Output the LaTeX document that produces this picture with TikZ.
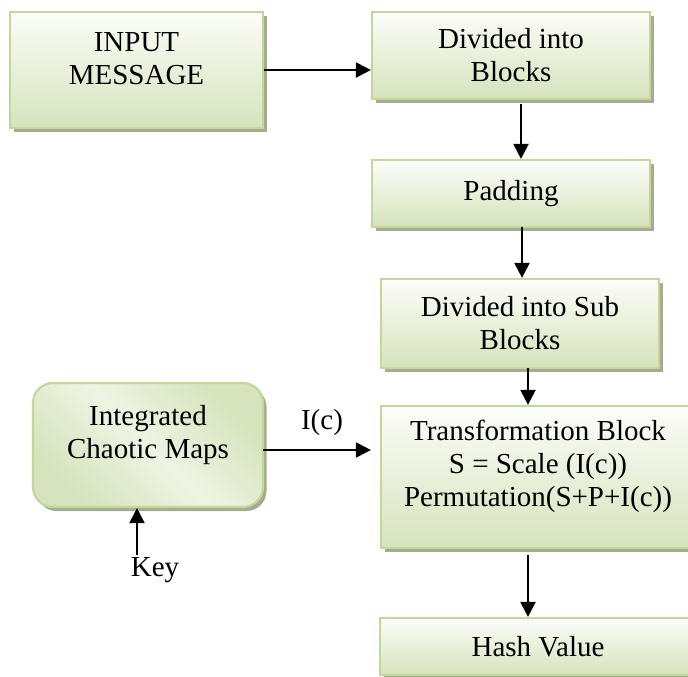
\documentclass[tikz,border=0pt]{standalone}
\usepackage{fontspec}
\setmainfont{Liberation Serif}
\usetikzlibrary{arrows.meta,shadows}
\definecolor{gtop}{RGB}{252,253,249}
\definecolor{gbot}{RGB}{214,227,188}
\definecolor{bord}{RGB}{195,214,155}
\definecolor{shad}{RGB}{165,173,140}
\definecolor{gmid}{RGB}{238,244,227}
\newcommand{\liftup}[2]{\raisebox{#1}[\height][\depth]{\begin{tabular}{@{}c@{}}#2\end{tabular}}}
\begin{document}
\begin{tikzpicture}[x=1pt,y=-1pt,
  boxbase/.style={draw=bord, line width=2.2pt, align=center, inner sep=0pt,
     font=\fontsize{29}{33}\selectfont,
     general shadow={fill=shad, shadow xshift=3.5pt, shadow yshift=-4pt}},
  greenbox/.style={boxbase, rectangle, top color=gtop, bottom color=gbot},
  chaosbox/.style={boxbase, rectangle, rounded corners=20pt, top color=gbot, bottom color=gbot, middle color=gmid, shading angle=-45},
  arr/.style={line width=2.2pt, -{Triangle[length=15pt,width=15pt]}},
  lbl/.style={font=\fontsize{29}{33}\selectfont, inner sep=0pt}]
\useasboundingbox (0,0) rectangle (688,677);
\clip (0,0) rectangle (688,677);
\node[greenbox, minimum width=253pt, minimum height=116pt] (in) at (136.5,70) {\liftup{9pt}{INPUT\\MESSAGE}};
\node[greenbox, minimum width=278pt, minimum height=87pt] (div) at (511,55.5) {Divided into\\Blocks};
\node[greenbox, minimum width=278pt, minimum height=67pt] (pad) at (511,193.5) {Padding};
\node[greenbox, minimum width=278pt, minimum height=89pt] (sub) at (520,323.5) {Divided into Sub\\Blocks};
\node[greenbox, minimum width=314pt, minimum height=142pt] (tr) at (538,477) {\liftup{10pt}{Transformation Block\\S = Scale (I(c))\\Permutation(S+P+I(c))}};
\node[greenbox, minimum width=316pt, minimum height=57pt] (hash) at (538,646.5) {Hash Value};
\node[chaosbox, minimum width=230pt, minimum height=124pt] (chaos) at (148,445) {\liftup{10pt}{Integrated\\Chaotic Maps}};
\node[lbl] (ic) at (322,423) {I(c)};
\node[lbl] (key) at (155,570) {Key};
\coordinate (a1) at (521,104);
\coordinate (a2) at (522,227);
\coordinate (a3) at (528,368);
\coordinate (a4) at (528,555);
\coordinate (a5) at (263,450);
\coordinate (a6) at (137,555);
\draw[arr] (in.east) -- (in.east -| div.west);
\draw[arr] (a1) -- (a1 |- pad.north);
\draw[arr] (a2) -- (a2 |- sub.north);
\draw[arr] (a3) -- (a3 |- tr.north);
\draw[arr] (a4) -- (a4 |- hash.north);
\draw[arr, shorten >=9pt] (a5) -- (a5 -| tr.west);
\draw[arr] (a6) -- (a6 |- chaos.south);
\end{tikzpicture}
\end{document}
